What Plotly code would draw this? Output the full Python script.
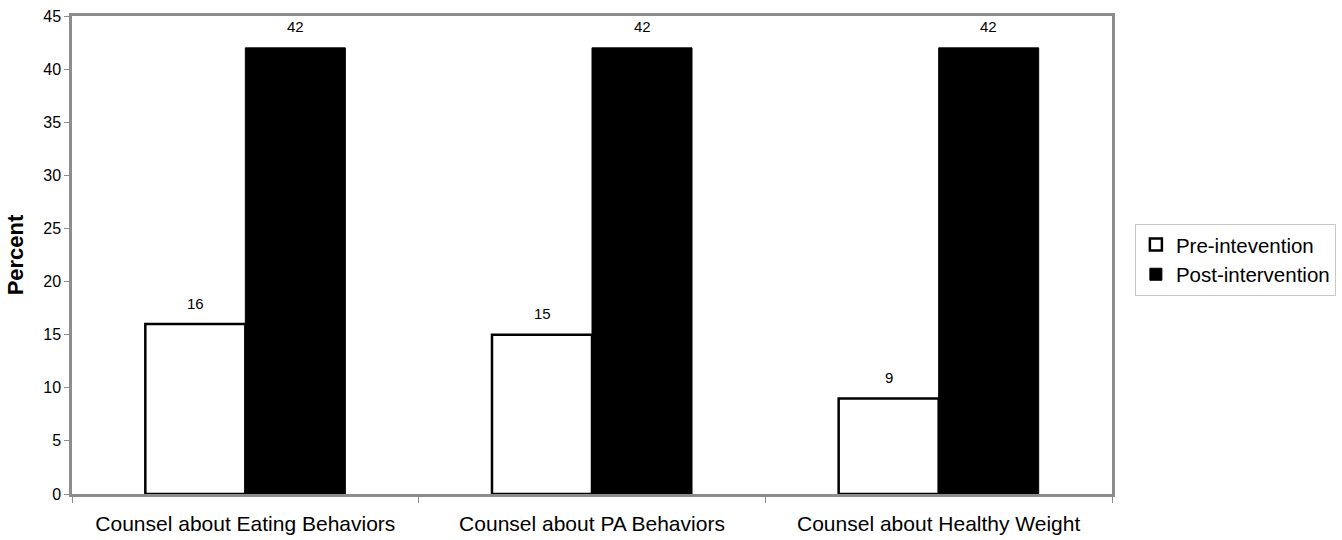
import plotly.graph_objects as go

categories = ["Counsel about Eating Behaviors", "Counsel about PA Behaviors", "Counsel about Healthy Weight"]
pre_values = [16, 15, 9]
post_values = [42, 42, 42]
series_names = ["Pre-intevention", "Post-intervention"]
y_ticks = [0, 5, 10, 15, 20, 25, 30, 35, 40, 45]

FONT = "Liberation Sans, Arial, sans-serif"
GRAY = "#8c8c8c"

fig = go.Figure()
fig.add_trace(go.Bar(
    x=categories, y=pre_values, name=series_names[0],
    marker=dict(color="white", line=dict(color="black", width=2.5)),
))
fig.add_trace(go.Bar(
    x=categories, y=post_values, name=series_names[1],
    marker=dict(color="black", line=dict(color="black", width=1)),
))

annotations = []
for i, cat in enumerate(categories):
    for vals, shift in ((pre_values, -50), (post_values, 50)):
        annotations.append(dict(
            x=cat, y=vals[i], text=str(vals[i]), showarrow=False,
            xref="x", yref="y", xshift=shift, yshift=21,
            font=dict(size=15, color="black", family=FONT),
        ))

fig.update_layout(
    barmode="group",
    bargap=0.423,
    bargroupgap=0,
    width=1342, height=540,
    margin=dict(l=72, r=230, t=16, b=46, autoexpand=False),
    paper_bgcolor="white",
    plot_bgcolor="white",
    font=dict(family=FONT, color="black"),
    annotations=annotations,
    legend=dict(
        x=1.022, y=0.49, xanchor="left", yanchor="middle",
        bordercolor="#c8c8c8", borderwidth=1,
        font=dict(size=20.5, color="black", family=FONT),
        traceorder="normal",
        itemwidth=30,
        tracegroupgap=0,
    ),
    xaxis=dict(
        showline=True, linecolor=GRAY, linewidth=2.5, mirror=True,
        ticks="outside", tickson="boundaries", ticklen=6, tickcolor=GRAY,
        tickfont=dict(size=21, color="black"),
        ticklabelstandoff=9,
        showgrid=False, automargin=False,
    ),
    yaxis=dict(
        range=[0, 45], tickvals=y_ticks,
        showline=True, linecolor=GRAY, linewidth=2.5, mirror=True,
        ticks="outside", ticklen=5, tickcolor=GRAY,
        tickfont=dict(size=16, color="black"),
        showgrid=False, zeroline=False, automargin=False,
        title=dict(text="<b>Percent</b>", font=dict(size=22, color="black"), standoff=14),
    ),
)

fig.write_html(
    "out.html",
    config={"displayModeBar": False},
    post_script="document.body.style.margin='0';document.body.style.overflow='hidden';",
)
